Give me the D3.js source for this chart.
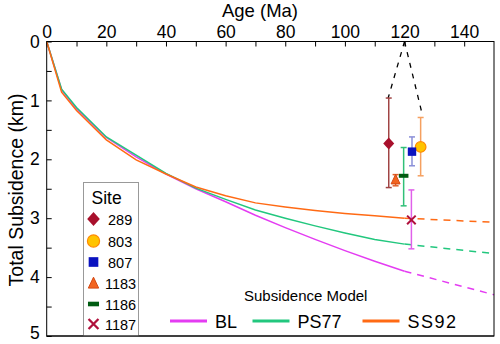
<!DOCTYPE html>
<html><head><meta charset="utf-8">
<script src="https://cdn.jsdelivr.net/npm/d3@7"></script>
<style>body{margin:0;background:#fff}svg{display:block;font-family:"Liberation Sans",Arial,sans-serif}</style>
</head><body><svg id="c" width="500" height="344"></svg>
<script>
// ---- data ----
const ages = [0,5,10,20,30,40,50,60,70,80,90,100,110,120];
const BL   = [0,0.82,1.14,1.63,1.96,2.25,2.50,2.72,2.95,3.16,3.36,3.55,3.73,3.90];
const PS77 = [0,0.81,1.12,1.62,1.93,2.24,2.49,2.68,2.86,3.00,3.13,3.25,3.36,3.44];
const SS92 = [0,0.86,1.17,1.67,2.01,2.25,2.47,2.62,2.74,2.81,2.87,2.92,2.96,3.00];
const extAges = [120,150];
const BLext = [3.90,4.30];
const PS77ext = [3.44,3.60];
const SS92ext = [3.00,3.07];
const modelNames = ["BL","PS77","SS92"];
const modelColors = ["#e43cf2","#22c77e","#ff6a14"];

const sites = ["289","803","807","1183","1186","1187"];
const siteAge = [114.7,125.4,122.5,117.0,119.7,122.3];
const siteDepth = [1.73,1.79,1.87,2.35,2.28,3.03];
const errLow = [0.96,1.29,1.62,2.26,1.80,2.52];
const errHigh = [2.48,2.28,2.11,2.45,2.79,3.52];
const siteColors = ["#a8102c","#ffc400","#0a12c0","#f26420","#005c12","#b0103c"];
const siteStroke = ["#a8102c","#ff8a00","#0a12c0","#d44812","#005c12","#b0103c"];
const errColors = ["#a04444","#f5a060","#8a8fd8","#e0602a","#30c078","#e060ea"];
const apex = [120,0];
const dashEnds = [[114.5,0.96],[126,1.25]];
const xTicks = [0,20,40,60,80,100,120,140];
const yTicks = [0,1,2,3,4,5];

// ---- chart ----
const svg = d3.select("#c");
const x = d3.scaleLinear().domain([0,150]).range([46.7,494]);
const y = d3.scaleLinear().domain([0,5]).range([41.5,336]);

// axes
const xAx = svg.append("g").attr("transform","translate(0,41.5)")
  .call(d3.axisTop(x).tickValues(d3.range(0,150,10)).tickSize(-5).tickPadding(4)
  .tickFormat(d=> xTicks.includes(d)? d : ""));
xAx.select(".domain").remove();
xAx.selectAll("text").attr("font-size",17.5).attr("fill","#000").attr("dy","0").attr("y",-3.5);
const yAx = svg.append("g").attr("transform","translate(46.7,0)")
  .call(d3.axisLeft(y).tickValues(d3.range(0,5.01,0.5)).tickSize(-5).tickPadding(7)
  .tickFormat(d=> yTicks.includes(d)? d : ""));
yAx.select(".domain").remove();
yAx.selectAll("text").attr("font-size",17.5).attr("fill","#000")
  .attr("y", d => d === 5 ? -3.5 : 0);
svg.selectAll(".tick line").attr("stroke","#000");

svg.append("text").attr("x",260).attr("y",17).attr("text-anchor","middle").attr("font-size",18.5).text("Age (Ma)");
svg.append("text").attr("transform","translate(23,190) rotate(-90)").attr("text-anchor","middle").attr("font-size",19.5).text("Total Subsidence (km)");

// curves
const line = d3.line().x(d=>x(d[0])).y(d=>y(d[1]));
[BL,PS77,SS92].forEach((s,i)=>{
  svg.append("path").attr("d",line(ages.map((a,j)=>[a,s[j]]))).attr("fill","none")
    .attr("stroke",modelColors[i]).attr("stroke-width",1.5);
});
[BLext,PS77ext,SS92ext].forEach((s,i)=>{
  svg.append("path").attr("d",line(extAges.map((a,j)=>[a,s[j]]))).attr("fill","none")
    .attr("stroke",modelColors[i]).attr("stroke-width",1.5).attr("stroke-dasharray","7,6");
});

// dashed black
dashEnds.forEach(e=>{
  svg.append("path").attr("d",line([apex,e])).attr("fill","none").attr("stroke","#000")
    .attr("stroke-width",1.3).attr("stroke-dasharray","5,6");
});

// error bars
sites.forEach((s,i)=>{
  const g = svg.append("g").attr("stroke",errColors[i]).attr("stroke-width",1.5);
  const cx = x(siteAge[i]);
  g.append("line").attr("x1",cx).attr("x2",cx).attr("y1",y(errLow[i])).attr("y2",y(errHigh[i]));
  [errLow[i],errHigh[i]].forEach(v=>g.append("line").attr("x1",cx-3).attr("x2",cx+3).attr("y1",y(v)).attr("y2",y(v)));
});

function symbol(g,i,cx,cy,sc){
  const c=siteColors[i], st=siteStroke[i];
  if(i===0) g.append("path").attr("d",`M${cx},${cy-6*sc}L${cx+5.5*sc},${cy}L${cx},${cy+6*sc}L${cx-5.5*sc},${cy}Z`).attr("fill",c);
  if(i===1) g.append("circle").attr("cx",cx).attr("cy",cy).attr("r",5.3*sc).attr("fill",c).attr("stroke",st).attr("stroke-width",1.2);
  if(i===2) g.append("rect").attr("x",cx-4.2*sc).attr("y",cy-4.2*sc).attr("width",8.4*sc).attr("height",8.4*sc).attr("fill",c);
  if(i===3) g.append("path").attr("d",`M${cx},${cy-5.5*sc}L${cx+4.5*sc},${cy+4*sc}L${cx-4.5*sc},${cy+4*sc}Z`).attr("fill",c).attr("stroke",st).attr("stroke-width",1);
  if(i===4) g.append("rect").attr("x",cx-4.8*sc).attr("y",cy-2*sc).attr("width",9.6*sc).attr("height",4*sc).attr("fill",c);
  if(i===5){const r=4.3*sc; g.append("path").attr("d",`M${cx-r},${cy-r}L${cx+r},${cy+r}M${cx-r},${cy+r}L${cx+r},${cy-r}`).attr("stroke",c).attr("stroke-width",2*sc);}
}
sites.forEach((s,i)=>symbol(svg,i,x(siteAge[i]),y(siteDepth[i]),1));

// border
svg.append("rect").attr("x",46.7).attr("y",41.5).attr("width",494-46.7).attr("height",336-41.5)
  .attr("fill","none").attr("stroke","#000").attr("stroke-width",1);

// site legend
svg.append("rect").attr("x",83.5).attr("y",182.5).attr("width",55).attr("height",153.5).attr("fill","#fff").attr("stroke","#999").attr("stroke-width",1);
svg.append("text").attr("x",91.5).attr("y",204).attr("font-size",17.5).text("Site");
const legY = [219,241,262,283.5,304,324];
sites.forEach((s,i)=>{
  symbol(svg,i,93.5,legY[i],1.15);
  svg.append("text").attr("x", s.length===3?108:105).attr("y",legY[i]+5.5).attr("font-size",14.5).text(s);
});
svg.append("line").attr("x1",46.7).attr("x2",494).attr("y1",336).attr("y2",336).attr("stroke","#000");

// model legend
svg.append("text").attr("x",244).attr("y",301).attr("font-size",15).text("Subsidence Model");
const mlx = [170,252.5,362.5];
modelNames.forEach((m,i)=>{
  svg.append("line").attr("x1",mlx[i]).attr("x2",mlx[i]+37).attr("y1",321).attr("y2",321).attr("stroke",modelColors[i]).attr("stroke-width",3);
  svg.append("text").attr("x",mlx[i]+45).attr("y",328).attr("font-size",18).attr("letter-spacing", m==="SS92"?1.5:0).text(m);
});
</script></body></html>
